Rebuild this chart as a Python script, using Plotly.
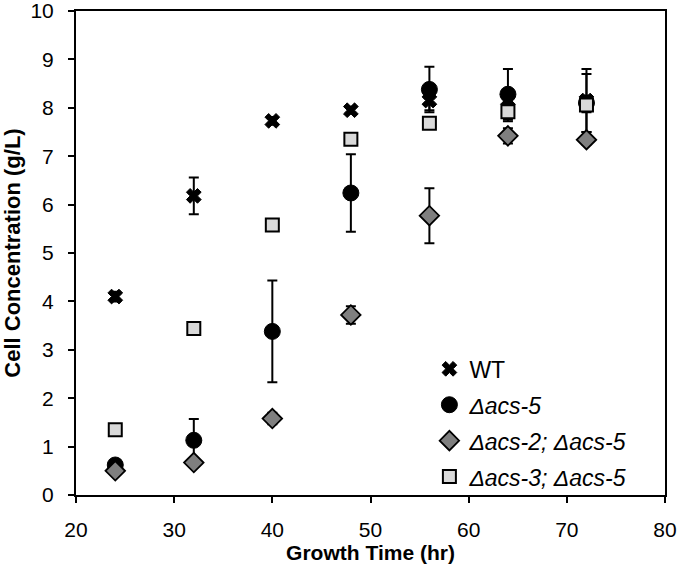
import plotly.graph_objects as go

time_hr = [24, 32, 40, 48, 56, 64, 72]

wt = [4.10, 6.18, 7.73, 7.95, 8.15, 8.15, 8.15]
wt_err = [0.10, 0.38, 0.08, 0.07, 0.20, 0.15, 0.65]

acs5 = [0.62, 1.13, 3.38, 6.24, 8.38, 8.28, 8.10]
acs5_err = [0.05, 0.44, 1.05, 0.80, 0.47, 0.52, 0.60]

acs2_5 = [0.50, 0.67, 1.58, 3.72, 5.77, 7.42, 7.34]
acs2_5_err = [0.05, 0.05, 0.12, 0.18, 0.57, 0.16, 0.10]

acs3_5 = [1.35, 3.44, 5.58, 7.35, 7.68, 7.92, 8.06]
acs3_5_err = [0.05, 0.12, 0.05, 0.05, 0.08, 0.20, 0.15]

names = ["WT", "<i>Δacs-5</i>", "<i>Δacs-2; Δacs-5</i>", "<i>Δacs-3; Δacs-5</i>"]

FONT = "Liberation Sans, Arial, sans-serif"

fig = go.Figure()

series = [
    (wt, wt_err, dict(symbol="x", size=13, color="black", line=dict(color="black", width=1))),
    (acs5, acs5_err, dict(symbol="circle", size=16, color="black", line=dict(color="black", width=1))),
    (acs2_5, acs2_5_err, dict(symbol="diamond", size=15, color="#7f7f7f", line=dict(color="black", width=1.8))),
    (acs3_5, acs3_5_err, dict(symbol="square", size=13, color="#d9d9d9", line=dict(color="black", width=2))),
]

for i, ((vals, errs, mk), nm) in enumerate(zip(series, names)):
    fig.add_trace(go.Scatter(
        x=time_hr, y=vals, mode="markers", name=nm, marker=mk,
        legendgroup=str(i),
        error_y=dict(type="data", array=errs, visible=True, color="black", thickness=2, width=5),
    ))

fig.update_layout(
    width=680, height=567,
    margin=dict(l=76, r=15, t=11, b=72),
    paper_bgcolor="white", plot_bgcolor="white",
    font=dict(family=FONT, color="black", size=21),
    showlegend=True,
    legend=dict(x=0.60, y=0.305, xanchor="left", yanchor="top",
                font=dict(size=23, family=FONT, color="black"),
                bgcolor="rgba(0,0,0,0)", tracegroupgap=3),
)

fig.update_xaxes(
    range=[20, 80], tickvals=[20, 30, 40, 50, 60, 70, 80],
    showgrid=False, zeroline=False,
    showline=True, linecolor="black", linewidth=2, mirror=True,
    ticks="outside", ticklen=6, tickwidth=2, tickcolor="black",
    tickfont=dict(size=21, family=FONT), ticklabelstandoff=9,
    ticklabeloverflow="allow",
    title=dict(text="<b>Growth Time (hr)</b>", font=dict(size=21, family=FONT), standoff=2),
    automargin=False,
)
fig.update_yaxes(
    range=[0, 10], tickvals=list(range(0, 11)),
    showgrid=False, zeroline=False,
    showline=True, linecolor="black", linewidth=2, mirror=True,
    ticks="outside", ticklen=6, tickwidth=2, tickcolor="black",
    tickfont=dict(size=21, family=FONT), ticklabelstandoff=10,
    ticklabeloverflow="allow",
    title=dict(text="<b>Cell Concentration (g/L)</b>", font=dict(size=22, family=FONT), standoff=10),
    automargin=False,
)

fig.write_html("out.html", config={"displayModeBar": False},
               post_script="document.body.style.margin='0';")
